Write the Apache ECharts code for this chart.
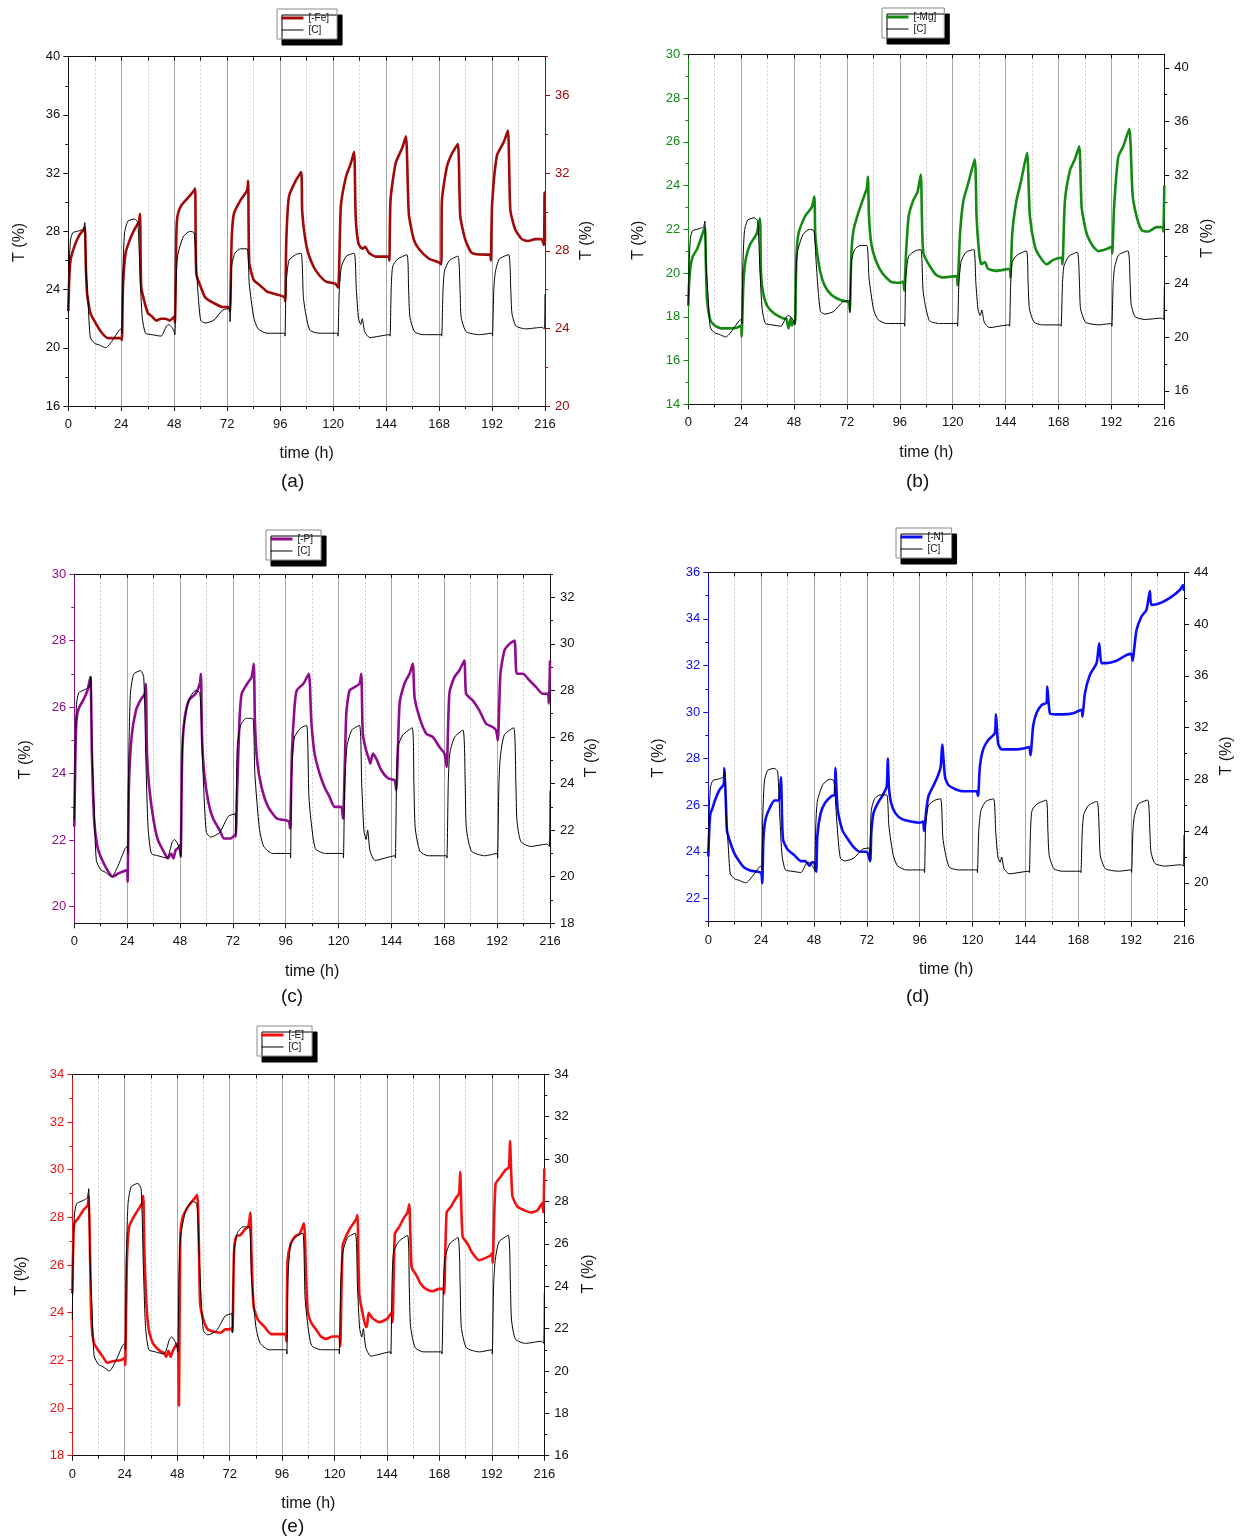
<!DOCTYPE html>
<html><head><meta charset="utf-8">
<script src="https://cdn.jsdelivr.net/npm/echarts@6/dist/echarts.min.js"></script>
<style>html,body{margin:0;padding:0;background:#fff}#c{width:1241px;height:1540px}</style>
</head><body><div id="c"></div>
<script>
// ---------- tick labels ----------
const X_TICKS = [0,24,48,72,96,120,144,168,192,216];
const A_LEFT_TICKS = [16,20,24,28,32,36,40];   const A_LEFT_MINOR = [18,22,26,30,34,38];
const A_RIGHT_TICKS = [20,24,28,32,36];        const A_RIGHT_MINOR = [22,26,30,34,38];
const B_LEFT_TICKS = [14,16,18,20,22,24,26,28,30]; const B_LEFT_MINOR = [15,17,19,21,23,25,27,29];
const B_RIGHT_TICKS = [16,20,24,28,32,36,40];  const B_RIGHT_MINOR = [18,22,26,30,34,38];
const C_LEFT_TICKS = [20,22,24,26,28,30];      const C_LEFT_MINOR = [21,23,25,27,29];
const C_RIGHT_TICKS = [18,20,22,24,26,28,30,32]; const C_RIGHT_MINOR = [19,21,23,25,27,29,31,33];
const D_LEFT_TICKS = [22,24,26,28,30,32,34,36]; const D_LEFT_MINOR = [21,23,25,27,29,31,33,35];
const D_RIGHT_TICKS = [20,24,28,32,36,40,44];  const D_RIGHT_MINOR = [18,22,26,30,34,38,42];
const E_LEFT_TICKS = [18,20,22,24,26,28,30,32,34]; const E_LEFT_MINOR = [19,21,23,25,27,29,31,33];
const E_RIGHT_TICKS = [16,18,20,22,24,26,28,30,32,34]; const E_RIGHT_MINOR = [17,19,21,23,25,27,29,31,33];

// ---------- series values: [time (h), T (%)] ----------
const CONTROL = [
[0,22.4],[0.4,25.5],[1,27.4],[2,27.9],[4,28.0],[6,28.1],[7,28.2],[7.5,28.6],[8,25.6],[9,23.0],[10,20.7],[12,20.3],[14,20.2],[17,20.0],[20,20.5],[23,21.2],[24,21.3],[24.3,21.0],
[24.7,25.0],[25.5,27.9],[27,28.7],[30,28.85],[31.5,28.6],[32.5,25.0],[33.5,22.1],[35,21.0],[38,20.9],[42,20.8],[44.5,21.5],[45.5,21.6],[47,21.4],[48,21.1],[48.3,20.9],
[48.8,24.4],[49.5,26.3],[52,27.6],[55,28.0],[57,27.9],[58,25.6],[59,23.3],[60,21.9],[62,21.7],[66,21.9],[70,22.6],[73,22.7],[73.3,21.8],
[74,25.6],[75.5,26.5],[78,26.8],[81,26.8],[82,24.4],[84,22.1],[86,21.3],[90,21.0],[98,21.0],[98.2,20.8],
[98.7,24.4],[100,26.0],[103,26.4],[105.5,26.5],[106.5,23.5],[107.5,22.4],[109.5,21.2],[114,21.0],[122,21.0],[122.2,20.8],
[122.8,24.0],[123.8,25.6],[126,26.3],[129.5,26.5],[130.5,24.0],[131.5,22.0],[132.5,21.6],[133.2,22.0],[134.3,21.1],[136.6,20.7],[145.6,20.9],[145.8,20.8],
[146.3,24.0],[147,25.6],[149.3,26.1],[153.4,26.4],[154.2,24.0],[154.8,22.1],[156.9,21.1],[160.6,20.9],[169,20.9],[169.2,20.8],
[169.8,24.0],[170.5,25.3],[172.7,26.0],[176.5,26.3],[177.5,24.0],[178,22.1],[180.3,21.1],[186.3,20.9],[192,21.0],[192.2,20.8],
[192.8,24.0],[193.5,25.2],[195.3,26.1],[199.5,26.4],[200.5,24.0],[201,22.4],[202.8,21.5],[207.3,21.3],[214.6,21.4],[215.7,21.3],[216,23.7]
];
const FE = [
[0,24.9],[0.4,26.5],[1,27.5],[3,28.3],[5,28.8],[7,29.1],[7.5,29.2],[8,27.0],[8.5,25.8],[9,25.4],[10,24.8],[12,24.35],[15,23.8],[18,23.5],[21,23.5],[24,23.5],[24.3,23.4],
[24.8,26.2],[26,27.9],[28,28.6],[30,29.1],[32,29.5],[32.5,29.9],[33,26.2],[34,25.6],[36,24.8],[38,24.6],[40,24.4],[42,24.5],[44,24.5],[46,24.4],[48,24.6],[48.3,24.3],
[49,29.0],[49.5,29.8],[51,30.3],[54,30.7],[57,31.1],[57.5,31.2],[58,26.8],[60,26.15],[62,25.6],[66,25.3],[70,25.1],[73,25.1],[73.3,24.9],
[74,28.5],[75,29.9],[78,30.6],[81,31.1],[81.5,31.6],[82,27.4],[84,26.5],[87,26.2],[90,25.9],[96,25.7],[98,25.6],[98.3,25.4],
[98.8,28.6],[100,30.8],[103,31.6],[105.5,32.05],[106,30.0],[108,28.2],[111,27.2],[114,26.7],[117,26.4],[121,26.3],[122.3,26.1],
[123.5,30.3],[125.8,31.8],[128,32.5],[129.5,33.1],[130.2,29.8],[131.4,28.4],[133.2,28.1],[134.5,28.2],[136.2,27.9],[139.2,27.7],[145.2,27.7],[145.5,27.5],
[146,30.6],[148.3,32.5],[151.3,33.3],[153,33.9],[154.3,29.9],[156.5,28.6],[158.8,28.1],[163.3,27.6],[167.8,27.4],[169,27.3],
[169.3,30.6],[171.5,32.3],[173.8,33.0],[176.5,33.5],[177.6,29.8],[179.8,28.6],[182.8,27.9],[188.9,27.8],[191.1,27.8],[191.5,27.5],
[192,30.3],[194.2,32.9],[197.3,33.6],[199.2,34.2],[200.3,30.1],[202.5,29.1],[205.5,28.6],[208.5,28.5],[211.6,28.6],[214.4,28.6],[215.5,28.3],[215.8,31.0],[216,28.5]
];
const MG = [
[0,18.5],[0.3,19.4],[1,20.3],[2,20.75],[4,21.1],[6,21.66],[7.5,22.1],[8,20.3],[8.5,18.8],[10,17.85],[12,17.6],[15,17.47],[18,17.47],[22,17.5],[24,17.6],[24.2,17.1],
[25,19.5],[26,20.6],[28,21.3],[31,21.8],[32.5,22.5],[33,20.0],[34,19.07],[36,18.46],[39,18.15],[43,17.93],[44.5,17.9],[45.5,17.47],[46.5,17.93],[47,17.6],[48,17.8],[48.5,17.7],
[49,20.6],[50,21.8],[53,22.6],[56,23.0],[57.2,23.5],[57.6,21.8],[58.5,20.9],[60,20.0],[62,19.4],[65,19.0],[69,18.77],[72,18.7],[73,18.6],[73.3,18.3],
[74,20.9],[75,21.97],[77,22.7],[79,23.3],[81,23.87],[81.5,24.4],[82,22.6],[83,21.36],[85,20.6],[88,20.0],[92,19.6],[96,19.56],[97.5,19.6],[98,19.2],
[98.8,20.9],[100,22.6],[102,23.3],[104,23.7],[105.5,24.5],[106,22.6],[106.7,20.9],[109.7,20.3],[112.7,19.9],[115.7,19.8],[121.8,19.86],[122.2,19.45],
[123.3,21.8],[124.8,23.3],[127,24.1],[130,25.2],[130.8,22.6],[132,20.9],[133,20.4],[134.6,20.5],[136,20.2],[139.8,20.1],[145.9,20.2],[146.2,19.8],
[147,21.8],[148.9,23.3],[151.1,24.25],[153.7,25.5],[155,22.6],[157.3,21.2],[159.5,20.75],[162.6,20.4],[165.6,20.6],[169.4,20.7],[169.8,20.4],
[170.9,23.3],[173.2,24.7],[175.4,25.2],[177.4,25.8],[178.5,23.0],[180.8,21.8],[183.8,21.2],[186.1,21.0],[189.8,21.1],[192.1,21.2],[192.4,20.9],
[193.2,23.0],[195.1,25.3],[197.4,25.8],[200.1,26.6],[201.6,23.6],[203.4,22.6],[205.7,21.97],[208.7,21.9],[212.5,22.1],[215.3,22.1],[215.6,21.9],[216,24.0]
];
const P = [
[0,22.4],[0.5,24.6],[1,25.6],[2,25.96],[4,26.2],[6,26.5],[7.3,26.9],[8,24.6],[9,22.6],[10.5,21.8],[12,21.5],[15,21.1],[17.5,20.9],[20,21.0],[23,21.08],[24,21.1],[24.2,20.75],
[24.8,23.6],[26,25.1],[28,25.9],[30,26.2],[32,26.4],[32.5,26.7],[33,24.6],[34,23.6],[36,22.6],[38,22.0],[41,21.6],[42.5,21.45],[44,21.6],[45,21.45],[46,21.7],[47,21.75],[48,21.85],[48.3,21.5],
[49,24.6],[50,25.6],[52,26.2],[55,26.4],[57,26.7],[57.5,27.0],[58,25.1],[59,24.0],[61,23.1],[63,22.65],[66,22.3],[68,22.05],[71,22.05],[73,22.15],[73.3,22.1],
[74,23.6],[75,25.6],[76,26.4],[78.5,26.7],[80.5,26.9],[81.5,27.3],[82,25.6],[83,24.4],[85,23.6],[88,23.0],[92,22.65],[96,22.6],[97.5,22.55],[98,22.35],
[98.8,24.6],[100,26.0],[101,26.5],[104,26.7],[106.5,27.0],[107.6,25.6],[109.1,24.6],[111.4,24.0],[113.6,23.6],[115.9,23.3],[118.2,23.0],[121.2,23.0],[122,22.65],
[123.5,25.8],[125,26.5],[127.3,26.6],[129.5,26.7],[130.3,27.0],[131,25.2],[132.5,24.7],[134,24.4],[134.4,24.3],[135.6,24.6],[137.1,24.45],[139.4,24.1],[142.4,23.86],[145.4,23.8],[146.2,23.5],
[147.7,26.1],[149.9,26.7],[152.2,27.0],[153.7,27.3],[154.5,26.3],[156.7,25.7],[159.8,25.2],[162.8,25.1],[165.8,24.8],[168.1,24.6],[169.1,24.2],
[170.3,26.4],[172.6,26.9],[174.8,27.1],[177.1,27.4],[177.9,26.4],[180.9,26.2],[183.9,25.9],[187,25.5],[190,25.4],[191.5,25.3],[192.3,25.0],
[193.5,27.0],[195.3,27.7],[197.6,27.9],[199.9,28.0],[200.9,27.0],[203.7,27.0],[206.7,26.8],[209.7,26.6],[212.7,26.4],[215,26.4],[215.5,26.1],[216,27.4]
];
const N = [
[0,23.8],[0.5,25.1],[1,25.65],[2,25.9],[3,26.2],[5,26.65],[7,26.9],[7.3,27.6],[8,26.1],[8.5,24.9],[10,24.4],[12,23.9],[14,23.6],[16,23.35],[19,23.2],[22,23.15],[24,23.1],[24.5,22.65],
[25,24.5],[26,25.4],[28,25.9],[30,26.2],[32,26.2],[33,27.2],[33.5,25.4],[34,24.5],[36,24.1],[39,23.86],[42,23.6],[44,23.6],[46,23.4],[47,23.55],[48,23.55],[49,23.15],
[49.5,24.65],[51,25.65],[53,26.1],[56,26.4],[57.5,26.45],[57.7,27.6],[58.5,26.1],[59,25.65],[61,24.9],[63,24.6],[66,24.2],[69,24.0],[72,24.0],[73.5,23.6],
[74,24.8],[75,25.65],[77,26.1],[79,26.4],[81,26.8],[81.5,28.0],[82,26.8],[83,26.1],[85,25.65],[88,25.4],[92,25.3],[96,25.25],[97.5,25.3],[98,24.9],
[99,25.8],[100,26.4],[102,26.8],[104,27.2],[105.5,27.65],[106.2,28.6],[107.5,27.2],[109,26.87],[112,26.7],[115.8,26.6],[121.8,26.6],[122.5,26.4],
[123.3,27.65],[124.8,28.4],[127.1,28.8],[130.1,29.1],[130.6,29.9],[131.6,28.65],[133.1,28.4],[135.4,28.4],[139.9,28.4],[143.7,28.45],[145.7,28.5],[146.3,28.15],
[147.5,29.4],[149,29.95],[151.3,30.3],[153.6,30.4],[153.9,31.1],[155.1,29.95],[157.4,29.9],[161.1,29.9],[165.7,29.95],[169.5,30.1],[169.9,29.8],
[171,30.8],[173.3,31.6],[176.3,32.1],[177.5,32.95],[178.5,32.1],[180.8,32.1],[185.3,32.2],[189.9,32.45],[192.1,32.5],[192.6,32.2],
[194.4,33.5],[196.7,34.1],[199,34.4],[200.5,35.2],[201.2,34.6],[205,34.67],[209.6,34.9],[214.1,35.24],[215.6,35.45],[216,35.2]
];
const E = [
[0,24.8],[0.5,27.2],[1,27.75],[3,28.0],[5,28.3],[7,28.5],[7.5,28.9],[8,27.2],[8.5,24.4],[9,23.3],[10,22.7],[12,22.4],[14,22.15],[16,21.9],[19,21.97],[22,22.0],[24,22.1],[24.2,21.8],
[25,26.2],[26,27.6],[28,28.0],[30,28.3],[32,28.6],[32.5,28.9],[33,26.5],[34,24.25],[35,23.3],[37,22.7],[40,22.4],[42,22.3],[43,22.15],[44,22.4],[45,22.15],[46,22.4],[48,22.7],[48.5,22.3],[48.8,20.1],[49.2,25.1],
[49.5,27.3],[50.5,28.0],[53,28.45],[56,28.8],[57.2,28.95],[58,26.5],[58.5,24.4],[60,23.7],[62,23.3],[65,23.2],[68,23.16],[70,23.3],[72,23.3],[73,23.35],[73.3,23.2],
[74,26.5],[75,27.2],[77,27.26],[79,27.5],[80.5,27.6],[81.5,28.2],[82,26.5],[83,24.25],[85,23.7],[88,23.4],[91,23.1],[95,23.1],[97.5,23.1],[98,22.8],
[98.5,26.2],[100,26.9],[102,27.2],[104,27.3],[106,27.75],[106.9,25.8],[107.7,24.1],[109.2,23.6],[111.5,23.3],[113.8,23.0],[116.1,22.9],[119.1,23.0],[122.2,23.0],[122.6,22.6],
[123.7,26.8],[125.2,27.2],[127.5,27.6],[129.8,27.9],[130.5,28.1],[131.3,24.8],[132.8,24.0],[134.4,23.4],[134.8,23.4],[135.6,24.0],[137.4,23.76],[140.5,23.6],[144.3,23.76],[146.1,24.0],[146.6,23.6],
[147.6,27.3],[149.6,27.6],[151.9,28.0],[153.4,28.2],[154.2,28.55],[155.3,25.9],[157.3,25.6],[159.5,25.2],[161.8,25.0],[164.9,24.9],[167.9,25.0],[169.9,25.0],[170.2,24.8],
[171.3,28.2],[173.3,28.45],[175.5,28.8],[177,29.0],[177.5,29.9],[178.6,27.2],[180.8,26.9],[183.1,26.5],[186.2,26.2],[189.2,26.3],[191.4,26.4],[192.2,26.5],[192.4,26.1],
[193.7,29.4],[196,29.7],[198.3,30.0],[199.8,30.1],[200.3,31.2],[201.4,28.9],[203.7,28.45],[206.7,28.3],[209.8,28.2],[212.9,28.3],[215.1,28.6],[215.6,28.2],[216,30.05]
];

// ---------- layout / style config ----------
const FONT = '"Liberation Sans", Arial, sans-serif';
const PANELS = [
  {label:'(a)', name:'[-Fe]', color:'#a00a0a', data:FE, side:'right', box:[68.3,56.7,545,406],
   L:{min:16,max:40,ticks:A_LEFT_TICKS,minor:A_LEFT_MINOR,color:'#111'},
   R:{min:20,max:38,ticks:A_RIGHT_TICKS,minor:A_RIGHT_MINOR,color:'#a00a0a'},
   gapL:41, gapR:34, legend:[277,9], lab:[293,483]},
  {label:'(b)', name:'[-Mg]', color:'#148a14', data:MG, side:'left', box:[688.3,54.3,1164.3,404.3],
   L:{min:14,max:30,ticks:B_LEFT_TICKS,minor:B_LEFT_MINOR,color:'#148a14'},
   R:{min:15,max:41,ticks:B_RIGHT_TICKS,minor:B_RIGHT_MINOR,color:'#111'},
   gapL:42, gapR:35, legend:[882,8], lab:[918,483]},
  {label:'(c)', name:'[-P]', color:'#8f0d8d', data:P, side:'left', box:[74.3,574,550,923.3],
   L:{min:19.5,max:30,ticks:C_LEFT_TICKS,minor:C_LEFT_MINOR,color:'#8f0d8d'},
   R:{min:18,max:33,ticks:C_RIGHT_TICKS,minor:C_RIGHT_MINOR,color:'#111'},
   gapL:41, gapR:34, legend:[266,530], lab:[293,998]},
  {label:'(d)', name:'[-N]', color:'#0c0cfa', data:N, side:'left', box:[708.3,572.3,1184,921.7],
   L:{min:21,max:36,ticks:D_LEFT_TICKS,minor:D_LEFT_MINOR,color:'#0c0cfa'},
   R:{min:17,max:44,ticks:D_RIGHT_TICKS,minor:D_RIGHT_MINOR,color:'#111'},
   gapL:42, gapR:35, legend:[896,528], lab:[918,998]},
  {label:'(e)', name:'[-E]', color:'#f41010', data:E, side:'left', box:[72.3,1074.3,544.3,1455.7],
   L:{min:18,max:34,ticks:E_LEFT_TICKS,minor:E_LEFT_MINOR,color:'#f41010'},
   R:{min:16,max:34,ticks:E_RIGHT_TICKS,minor:E_RIGHT_MINOR,color:'#111'},
   gapL:43, gapR:36, legend:[257,1026], lab:[293,1528]}
];

const grids = [], xAxes = [], yAxes = [], series = [], legends = [], graphics = [];
PANELS.forEach((p, i) => {
  const [l, t, r, b] = p.box;
  grids.push({left:l, top:t, width:r - l, height:b - t, containLabel:false});
  xAxes.push({type:'value', gridIndex:i, position:'bottom', min:X_TICKS[0], max:X_TICKS[X_TICKS.length-1], interval:24,
    axisLine:{onZero:false, lineStyle:{color:'#111', width:1}},
    axisTick:{show:true, inside:false, length:5, lineStyle:{color:'#111'}},
    minorTick:{show:true, splitNumber:2, length:3, lineStyle:{color:'#111'}},
    axisLabel:{color:'#111', fontSize:13, margin:12, fontFamily:FONT},
    splitLine:{show:true, lineStyle:{color:'#a6a6a6', width:1}},
    minorSplitLine:{show:true, lineStyle:{color:'#cdcdcd', width:1, type:[2,2]}},
    name:'time (h)', nameLocation:'middle', nameGap:40,
    nameTextStyle:{fontSize:16, color:'#111', fontFamily:FONT}});
  xAxes.push({type:'value', gridIndex:i, position:'top', min:X_TICKS[0], max:X_TICKS[X_TICKS.length-1], interval:24,
    axisLine:{onZero:false, lineStyle:{color:'#111', width:1}},
    axisTick:{show:true, inside:true, length:4, lineStyle:{color:'#111'}},
    minorTick:{show:true, splitNumber:2, length:4, lineStyle:{color:'#111'}},
    axisLabel:{show:false}, splitLine:{show:false}});
  [['left', p.L, p.gapL, 22], ['right', p.R, p.gapR, 18]].forEach(([side, ax, gap, shift]) => {
    yAxes.push({type:'value', gridIndex:i, position:side, min:ax.min, max:ax.max,
      axisLine:{show:true, onZero:false, lineStyle:{color:ax.color, width:1}},
      axisTick:{show:true, inside:false, length:5, customValues:ax.ticks, lineStyle:{color:ax.color}},
      axisLabel:{show:true, customValues:ax.ticks, color:ax.color, fontSize:13, fontFamily:FONT, margin: side==='left' ? 8 : 10},
      splitLine:{show:false},
      name:'T (%)', nameLocation:'middle', nameRotate:90, nameGap:gap,
      nameTextStyle:{fontSize:16, color:'#111', fontFamily:FONT, padding:[0, shift, 0, 0]}});
  });
  [['left', p.L], ['right', p.R]].forEach(([side, ax]) => {
    yAxes.push({type:'value', gridIndex:i, position:side, min:ax.min, max:ax.max,
      axisLine:{show:false, onZero:false},
      axisTick:{show:true, inside:false, length:3, customValues:ax.minor, lineStyle:{color:ax.color}},
      axisLabel:{show:false, customValues:ax.minor}, splitLine:{show:false}});
  });
  const leftIdx = 4*i, rightIdx = 4*i + 1;
  series.push({type:'line', name:p.name, xAxisIndex:2*i, yAxisIndex: p.side==='left' ? leftIdx : rightIdx,
    data:p.data, symbol:'none', smooth:0.2, lineStyle:{color:p.color, width:2.6}, itemStyle:{color:p.color}, z:3});
  series.push({type:'line', name:'[C]', xAxisIndex:2*i, yAxisIndex: p.side==='left' ? rightIdx : leftIdx,
    data:CONTROL, symbol:'none', smooth:0.2, lineStyle:{color:'#000', width:1}, itemStyle:{color:'#000'}, z:4});
  legends.push({data:[{name:p.name, lineStyle:{width:3}}, {name:'[C]', lineStyle:{width:1}}],
    left:p.legend[0], top:p.legend[1], orient:'vertical',
    itemWidth:22, itemHeight:10, itemGap:2, padding:[4,8,4,3], selectedMode:false,
    itemStyle:{color:'rgba(0,0,0,0)', borderColor:'rgba(0,0,0,0)', borderWidth:0},
    textStyle:{fontSize:10, color:'#111', fontFamily:FONT},
    borderColor:'#8a8a8a', borderWidth:1, backgroundColor:'#fff',
    shadowColor:'#000', shadowBlur:0, shadowOffsetX:5, shadowOffsetY:6});
  graphics.push({type:'text', left:p.lab[0] - 12, top:p.lab[1] - 11,
    style:{text:p.label, font:'19px ' + FONT, fill:'#111'}});
});

const chart = echarts.init(document.getElementById('c'), null, {renderer:'canvas', width:1241, height:1540});
chart.setOption({animation:false, backgroundColor:'#fff', grid:grids, xAxis:xAxes, yAxis:yAxes,
  series:series, legend:legends, graphic:graphics});
</script>
</body></html>
